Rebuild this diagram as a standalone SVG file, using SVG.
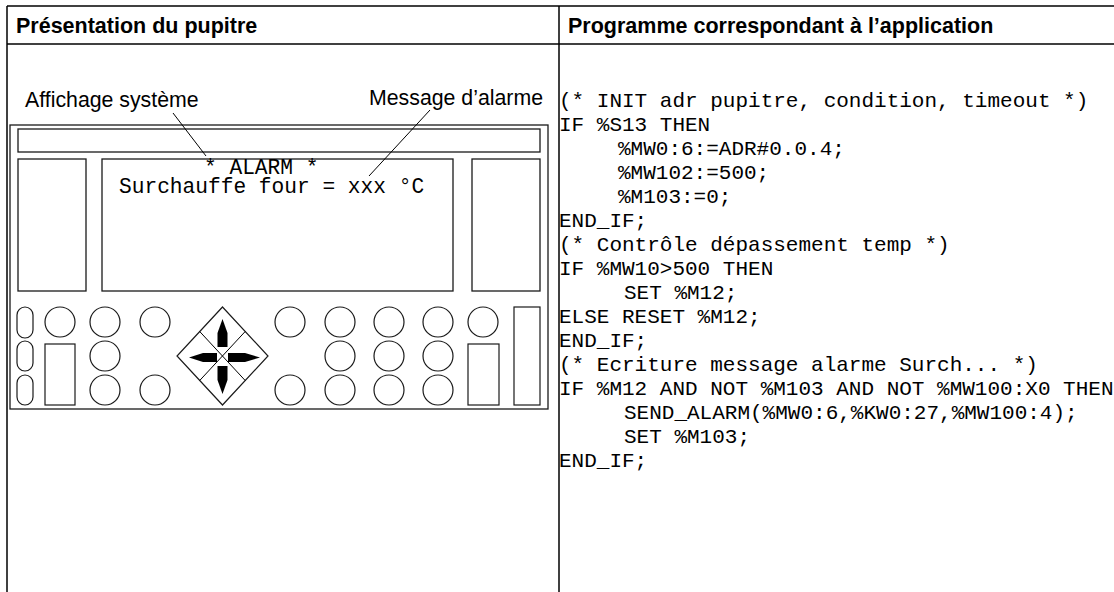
<svg xmlns="http://www.w3.org/2000/svg" width="1114" height="592" viewBox="0 0 1114 592">
  <style>
    .rule { stroke: #000; stroke-width: 1.5; fill: none; }
    .head { font-family: "Liberation Sans", Arial, sans-serif; font-weight: bold; font-size: 21.5px; fill: #000; }
    .label { font-family: "Liberation Sans", Arial, sans-serif; font-size: 21.3px; fill: #000; }
    .code { font-family: "Liberation Mono", "Courier New", monospace; font-size: 21px; fill: #000; white-space: pre; }
    .lcd { font-family: "Liberation Mono", "Courier New", monospace; font-size: 21.2px; fill: #000; white-space: pre; }
    .part { stroke: #1a1a1a; stroke-width: 1.3; fill: #fff; }
    .key { stroke: #1a1a1a; stroke-width: 1.2; fill: #fff; }
    .leader { stroke: #000; stroke-width: 1; fill: none; }
    .arrow { fill: #000; stroke: none; }
  </style>
  <rect width="1114" height="592" fill="#fff"/>

  <!-- table grid -->
  <g id="table">
    <line class="rule" x1="7" y1="6" x2="1114" y2="6"/>
    <line class="rule" x1="7" y1="44" x2="1114" y2="44"/>
    <line class="rule" x1="7" y1="6" x2="7" y2="592"/>
    <line class="rule" x1="559" y1="6" x2="559" y2="592"/>
    <text class="head" x="16" y="33">Présentation du pupitre</text>
    <text class="head" x="568" y="33">Programme correspondant à l’application</text>
  </g>

  <!-- operator panel -->
  <g id="panel">
    <rect class="part" x="10" y="125" width="538" height="284"/>
    <rect class="part" x="18" y="129" width="522" height="23"/>
  </g>

  <g id="screen-left">
    <rect class="part" x="18" y="159" width="68" height="132"/>
  </g>
  <g id="screen-main">
    <rect class="part" x="102" y="159" width="351" height="132"/>
    <text class="lcd" x="204" y="173.5">* ALARM *</text>
    <text class="lcd" x="119" y="192.5">Surchauffe four = xxx °C</text>
  </g>
  <g id="screen-right">
    <rect class="part" x="472" y="159" width="68" height="132"/>
  </g>

  <!-- keypad -->
  <g id="keys-left">
    <rect class="key" x="17" y="307" width="16" height="31" rx="8"/>
    <rect class="key" x="17" y="341" width="16" height="30" rx="8"/>
    <rect class="key" x="17" y="375" width="16" height="30" rx="8"/>
    <circle class="key" cx="60" cy="322" r="15"/>
    <rect class="key" x="45" y="344" width="30" height="61"/>
    <circle class="key" cx="105" cy="322" r="15"/>
    <circle class="key" cx="105" cy="356" r="15"/>
    <circle class="key" cx="105" cy="390" r="15"/>
    <circle class="key" cx="155" cy="322" r="15"/>
    <circle class="key" cx="155" cy="390" r="15"/>
  </g>

  <g id="direction-pad">
    <polygon class="key" points="222.5,307 268,356 222.5,405 177,356"/>
    <line class="leader" x1="199.7" y1="331.5" x2="245.2" y2="380.5"/>
    <line class="leader" x1="245.2" y1="331.5" x2="199.7" y2="380.5"/>
    <polygon class="arrow" points="222.5,319 227.5,333 227.5,347 217.5,347 217.5,333"/>
    <polygon class="arrow" points="217.5,366 227.5,366 227.5,380 222.5,394 217.5,380"/>
    <polygon class="arrow" points="189,357.5 203,353 217,353 217,362 203,362"/>
    <polygon class="arrow" points="228,353 245,353 260,357.5 245,362 228,362"/>
  </g>

  <g id="keys-right">
    <circle class="key" cx="290" cy="322" r="15"/>
    <circle class="key" cx="340" cy="322" r="15"/>
    <circle class="key" cx="389" cy="322" r="15"/>
    <circle class="key" cx="438" cy="322" r="15"/>
    <circle class="key" cx="483" cy="322" r="15"/>
    <circle class="key" cx="340" cy="356" r="15"/>
    <circle class="key" cx="389" cy="356" r="15"/>
    <circle class="key" cx="438" cy="356" r="15"/>
    <circle class="key" cx="290" cy="390" r="15"/>
    <circle class="key" cx="340" cy="390" r="15"/>
    <circle class="key" cx="389" cy="390" r="15"/>
    <circle class="key" cx="438" cy="390" r="15"/>
    <rect class="key" x="468" y="344" width="31" height="61"/>
    <rect class="key" x="514" y="307" width="26" height="98"/>
  </g>

  <!-- callouts -->
  <g id="label-system">
    <text class="label" x="25" y="107">Affichage système</text>
  </g>
  <g id="label-alarm">
    <text class="label" x="369" y="105">Message d’alarme</text>
  </g>
  <g id="connectors">
    <line class="leader" x1="173" y1="113" x2="206" y2="156"/>
    <line class="leader" x1="430" y1="110" x2="369" y2="176"/>
  </g>

  <!-- application program -->
  <g id="program">
    <text class="code" x="559" y="107">(* INIT adr pupitre, condition, timeout *)</text>
    <text class="code" x="559" y="131">IF %S13 THEN</text>
    <text class="code" x="618" y="155">%MW0:6:=ADR#0.0.4;</text>
    <text class="code" x="618" y="179">%MW102:=500;</text>
    <text class="code" x="618" y="203">%M103:=0;</text>
    <text class="code" x="559" y="227">END_IF;</text>
    <text class="code" x="559" y="251">(* Contrôle dépassement temp *)</text>
    <text class="code" x="559" y="275">IF %MW10&gt;500 THEN</text>
    <text class="code" x="624" y="299">SET %M12;</text>
    <text class="code" x="559" y="323">ELSE RESET %M12;</text>
    <text class="code" x="559" y="347">END_IF;</text>
    <text class="code" x="559" y="371">(* Ecriture message alarme Surch... *)</text>
    <text class="code" x="559" y="395">IF %M12 AND NOT %M103 AND NOT %MW100:X0 THEN</text>
    <text class="code" x="624" y="419">SEND_ALARM(%MW0:6,%KW0:27,%MW100:4);</text>
    <text class="code" x="624" y="443">SET %M103;</text>
    <text class="code" x="559" y="467">END_IF;</text>
  </g>
</svg>
